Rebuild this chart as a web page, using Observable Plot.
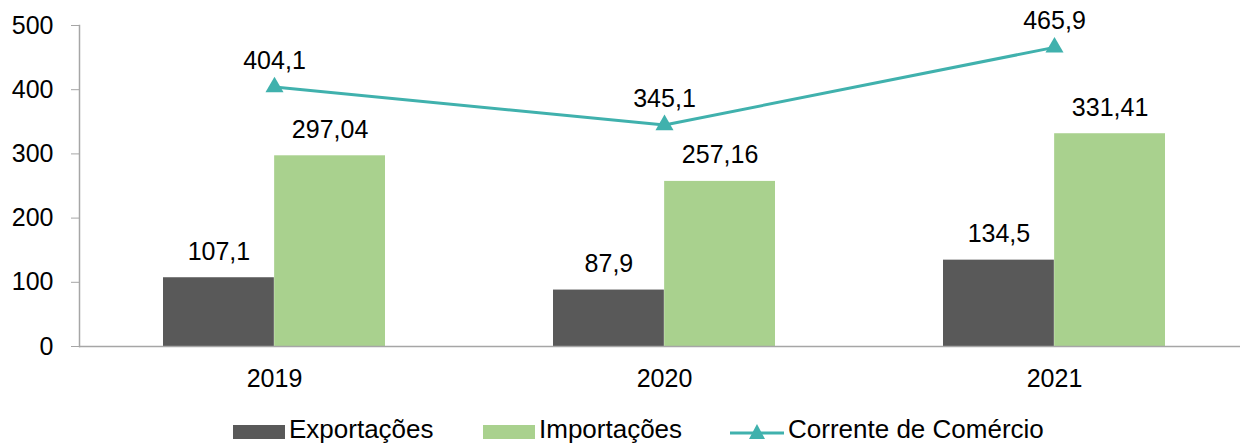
<!DOCTYPE html>
<html>
<head>
<meta charset="utf-8">
<script src="https://cdn.jsdelivr.net/npm/d3@7"></script>
<script src="https://cdn.jsdelivr.net/npm/@observablehq/plot@0.6"></script>
<style>
  html, body { margin: 0; padding: 0; background: #fff; overflow: hidden; }
  body { width: 1240px; height: 443px; position: relative; font-family: "Liberation Sans", Arial, sans-serif; }
  #legend { position: absolute; left: 0; top: 410px; width: 1240px; height: 33px; }
  .lg { position: absolute; top: 4px; display: flex; align-items: center; font-size: 26px; color: #000; line-height: 30px; white-space: nowrap; }
  .sw { display: inline-block; width: 52px; height: 14px; margin-right: 4px; position: relative; top: 3px; }
</style>
</head>
<body>
<div id="chart"></div>
<div id="legend">
  <div class="lg" style="left:233px"><span class="sw" style="background:#595959"></span><span>Exportações</span></div>
  <div class="lg" style="left:483px"><span class="sw" style="background:#a9d18e"></span><span>Importações</span></div>
  <div class="lg" style="left:730px"><svg width="54" height="20" style="margin-right:4px; position:relative; top:3px"><line x1="0" y1="11" x2="54" y2="11" stroke="#40b1ad" stroke-width="3"/><path d="M27,2 L35,17 L19,17 Z" fill="#40b1ad"/></svg><span>Corrente de Comércio</span></div>
</div>
<script>
const years = ["2019", "2020", "2021"];
const exportacoes = [107.1, 87.9, 134.5];
const importacoes = [297.04, 257.16, 331.41];
const corrente = [404.1, 345.1, 465.9];
const yTicks = [0, 100, 200, 300, 400, 500];

const fmt = (v, d) => v.toFixed(d).replace(".", ",");
const exp = years.map((y, i) => ({year: y, value: exportacoes[i], label: fmt(exportacoes[i], 1)}));
const imp = years.map((y, i) => ({year: y, value: importacoes[i], label: fmt(importacoes[i], 2)}));
const cor = years.map((y, i) => ({year: y, value: corrente[i], label: fmt(corrente[i], 1)}));

const W = 1240, H = 410;
const x0 = 79, step = 390;
const padInner = 0.43;
const bw = step * (1 - padInner);
const half = bw / 2;

const chart = Plot.plot({
  width: W,
  height: H,
  marginTop: 25,
  marginBottom: 64,
  marginLeft: x0,
  marginRight: 0,
  style: {fontFamily: "'Liberation Sans', Arial, sans-serif", fontSize: "25px", color: "#000", background: "#fff", overflow: "hidden"},
  x: {type: "band", domain: years, range: [x0, x0 + step * years.length], paddingInner: padInner, paddingOuter: padInner / 2},
  y: {domain: [0, 500]},
  marks: [
    Plot.barY(exp, {x: "year", y: "value", fill: "#595959", insetRight: half, insetLeft: 0}),
    Plot.barY(imp, {x: "year", y: "value", fill: "#a9d18e", insetLeft: half, insetRight: 0}),
    Plot.frame({anchor: "left", stroke: "#a6a6a6", strokeWidth: 1.5}),
    Plot.ruleY([0], {stroke: "#a6a6a6", strokeWidth: 1.5}),
    Plot.axisY({ticks: yTicks, tickSize: 8, tickPadding: 18, stroke: "#a6a6a6", fill: "#000", fontSize: 25, label: null, tickFormat: d => String(d)}),
    Plot.axisX({tickSize: 0, tickPadding: 23, fontSize: 25, fill: "#000", label: null}),
    Plot.line(cor, {x: "year", y: "value", stroke: "#40b1ad", strokeWidth: 3}),
    Plot.dot(cor, {x: "year", y: "value", symbol: "triangle", r: 6.7, fill: "#40b1ad", stroke: "none"}),
    Plot.text(exp, {x: "year", y: "value", text: "label", dx: -bw / 4, dy: -26, fontSize: 25, fill: "#000"}),
    Plot.text(imp, {x: "year", y: "value", text: "label", dx: bw / 4, dy: -26, fontSize: 25, fill: "#000"}),
    Plot.text(cor, {x: "year", y: "value", text: "label", dy: -26, fontSize: 25, fill: "#000"})
  ]
});
document.getElementById("chart").appendChild(chart);
</script>
</body>
</html>
